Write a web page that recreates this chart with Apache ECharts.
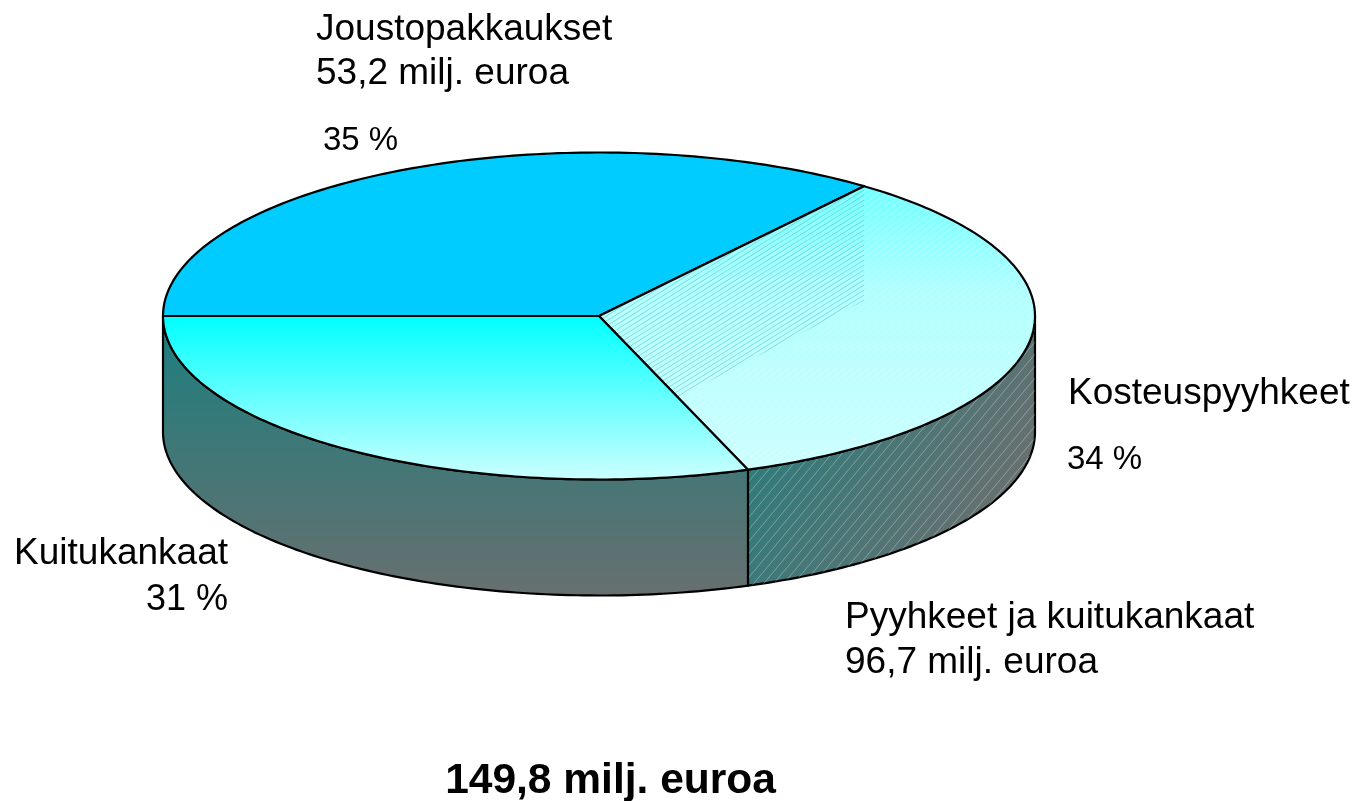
<!DOCTYPE html>
<html><head><meta charset="utf-8">
<script src="https://cdn.jsdelivr.net/npm/echarts@6/dist/echarts.min.js"></script>
<style>html,body{margin:0;padding:0;background:#fff}#c{width:1358px;height:801px}</style>
</head><body><div id="c"></div>
<script>
// Data
const categories = ['Joustopakkaukset', 'Kosteuspyyhkeet', 'Kuitukankaat'];
const shares = [35.4, 34.05, 30.55];
const shareLabels = ['35 %', '34 %', '31 %'];
const groupLabels = ['53,2 milj. euroa', '96,7 milj. euroa'];
const groupName = 'Pyyhkeet ja kuitukankaat';
const totalLabel = '149,8 milj. euroa';

// Geometry
const CX = 599, CY = 316, RX = 436, RY = 163.5, DEPTH = 116, START = 180;
const rad = d => d * Math.PI / 180;
const px = t => CX + RX * Math.cos(rad(t));
const py = t => CY + RY * Math.sin(rad(t));
function ranges(vals) {
  const sum = vals.reduce((a, b) => a + b, 0);
  let a = START;
  return vals.map(v => { const s = a; a += v / sum * 360; return [s, a]; });
}
function arc(a, b, dy) {
  const pts = [], n = Math.max(2, Math.ceil((b - a) / 1));
  for (let i = n; i >= 0; i--) { const t = a + (b - a) * (n - i) / n; pts.push([px(t), py(t) + (dy || 0)]); }
  return pts;
}
function hatch(w, h, color, lw) {
  const c = document.createElement('canvas');
  c.width = w; c.height = h;
  const x = c.getContext('2d');
  x.strokeStyle = color; x.lineWidth = lw;
  x.beginPath();
  x.moveTo(-w, 2 * h); x.lineTo(2 * w, -h);
  x.moveTo(-w, h); x.lineTo(w, -h);
  x.moveTo(0, 2 * h); x.lineTo(2 * w, 0);
  x.stroke();
  return c;
}
const wallHatch = hatch(10, 12, 'rgba(255,255,255,0.3)', 1);
const lightHatch = hatch(8, 6, 'rgba(255,255,255,0.35)', 1);
const darkHatch = hatch(8, 5, 'rgba(60,170,180,0.42)', 1);
const grad = (x, y, x2, y2, stops) => new echarts.graphic.LinearGradient(x, y, x2, y2, stops.map((c, i) => ({offset: c[0], color: c[1]})));

const topFill = [
  '#00ccff',
  grad(0, 0, 0, 1, [[0, '#70ffff'], [0.38, '#b0ffff'], [1, '#ccffff']]),
  grad(0, 0, 0, 1, [[0, '#00ffff'], [1, '#ccffff']])
];
const wallFill = [
  null,
  grad(0, 0, 1, 0.6, [[0, '#1f7f7f'], [1, '#6b6f6f']]),
  grad(0, 0, 0, 1, [[0, '#1a7f7f'], [1, '#686f6f']])
];
const stroke = {stroke: '#000', lineWidth: 2.2, lineJoin: 'round'};

function renderWall(params, api) {
  const r = ranges(shares)[params.dataIndex];
  const a = Math.max(r[0], 360), b = Math.min(r[1], 540);
  if (b <= a) return {type: 'group', children: []};
  const pts = arc(a, b, 0).concat(arc(a, b, DEPTH).reverse());
  const children = [{type: 'polygon', shape: {points: pts}, style: Object.assign({fill: wallFill[params.dataIndex]}, stroke)}];
  if (params.dataIndex === 1) children.push({type: 'polygon', silent: true, shape: {points: pts}, style: {fill: {image: wallHatch, repeat: 'repeat'}}});
  return {type: 'group', children};
}
function renderTop(params, api) {
  const r = ranges(shares)[params.dataIndex];
  const pts = [[CX, CY]].concat(arc(r[0], r[1], 0));
  const children = [{type: 'polygon', shape: {points: pts}, style: {fill: topFill[params.dataIndex]}}];
  if (params.dataIndex === 1) {
    children.push({type: 'polygon', silent: true, shape: {points: pts}, style: {fill: {image: lightHatch, repeat: 'repeat'}}});
    const sx = px(r[0]), sy = py(r[0]);
    const ex = px(r[1]), ey = py(r[1]);
    children.push({type: 'polygon', silent: true, shape: {points: [
      [CX, CY], [sx, sy], [sx, CY - 15],
      [CX + (ex - CX) * 0.53, CY + (ey - CY) * 0.53]
    ]}, style: {fill: {image: darkHatch, repeat: 'repeat'}}});
  }
  children.push({type: 'polygon', silent: true, shape: {points: pts}, style: Object.assign({fill: 'none'}, stroke)});
  return {type: 'group', children};
}

const labelFont = {fontFamily: '"Liberation Sans", Arial, sans-serif', fill: '#000'};
const lab = (text, x, y, size, align) => ({
  type: 'text', x, y,
  style: Object.assign({text, fontSize: size, textAlign: align || 'left', textVerticalAlign: 'middle'}, labelFont)
});

const chart = echarts.init(document.getElementById('c'));
chart.setOption({
  animation: false,
  backgroundColor: '#fff',
  series: [
    {type: 'custom', coordinateSystem: 'none', z: 1, clip: false, data: shares.map((v, i) => ({name: categories[i], value: v})), renderItem: renderWall},
    {type: 'custom', coordinateSystem: 'none', z: 2, clip: false, data: shares.map((v, i) => ({name: categories[i], value: v})), renderItem: renderTop}
  ],
  graphic: [
    lab(categories[0], 316, 29.5, 37),
    lab(groupLabels[0], 316, 74, 37),
    lab(shareLabels[0], 323, 141, 33),
    lab(categories[1], 1068, 394, 37),
    lab(shareLabels[1], 1067, 460, 33),
    lab(categories[2], 228, 554, 37, 'right'),
    lab(shareLabels[2], 228, 600, 36, 'right'),
    lab(groupName, 845, 618, 37),
    lab(groupLabels[1], 845, 663, 37),
    {type: 'text', x: 610.5, y: 781, style: {text: totalLabel, textAlign: 'center', textVerticalAlign: 'middle', fontFamily: '"Liberation Sans", Arial, sans-serif', fontSize: 42.5, fontWeight: 'bold', fill: '#000'}}
  ]
});
</script></body></html>
